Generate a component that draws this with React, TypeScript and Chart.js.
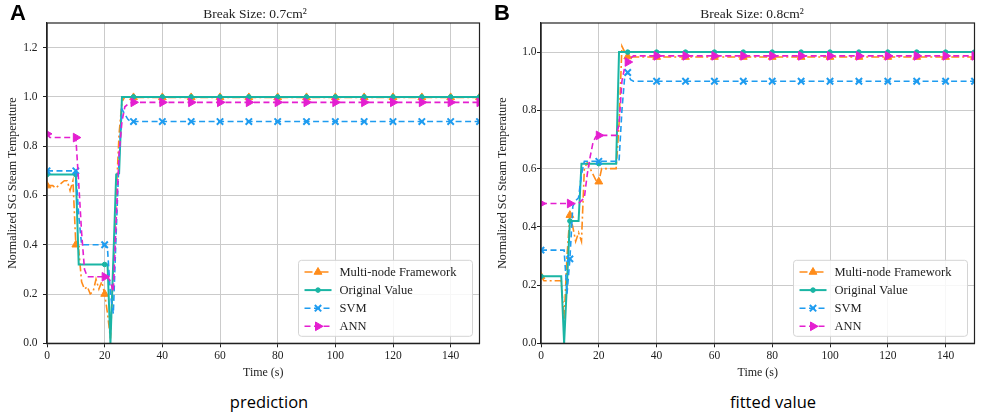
import { useEffect, useRef } from "react";
import { Chart, registerables } from "chart.js";
import { drawPoint } from "chart.js/helpers";

Chart.register(...registerables);

const seriesLabels = ["Multi-node Framework", "Original Value", "SVM", "ANN"];

// Panel A - break size 0.7 cm2
const timeA = [
  0, 1, 2, 3, 4, 5, 6, 7, 8, 9, 10, 11, 12, 13, 14, 15, 16, 17, 18, 19, 20,
  21, 22, 23, 24, 25, 26, 27, 28, 29, 30, 40, 50, 60, 70, 80, 90, 100, 110,
  120, 130, 140, 150,
];
const multiNodeA = [
  0.64, 0.64, 0.64, 0.63, 0.64, 0.65, 0.66, 0.66, 0.62, 0.66, 0.4, 0.38, 0.25,
  0.22, 0.23, 0.2, 0.21, 0.26, 0.22, 0.25, 0.2, 0.12, 0.02, 0.3, 0.6, 0.85,
  0.98, 1.0, 1.0, 1.0, 0.998, 0.998, 0.998, 0.998, 0.998, 0.998, 0.998, 0.998,
  0.998, 0.998, 0.998, 0.998, 0.998,
];
const originalA = [
  0.685, 0.685, 0.685, 0.685, 0.685, 0.685, 0.685, 0.685, 0.685, 0.685, 0.685,
  0.32, 0.32, 0.32, 0.32, 0.32, 0.32, 0.32, 0.32, 0.32, 0.32, 0.32, 0.0, 0.34,
  0.685, 0.69, 1.0, 1.0, 1.0, 1.0, 1.0, 1.0, 1.0, 1.0, 1.0, 1.0, 1.0, 1.0, 1.0,
  1.0, 1.0, 1.0, 1.0,
];
const svmA = [
  0.7, 0.7, 0.7, 0.7, 0.7, 0.7, 0.7, 0.7, 0.7, 0.7, 0.7, 0.52, 0.4, 0.4, 0.4,
  0.4, 0.4, 0.4, 0.4, 0.4, 0.4, 0.38, 0.2, 0.12, 0.45, 0.75, 0.95, 0.93, 0.91,
  0.9, 0.9, 0.9, 0.9, 0.9, 0.9, 0.9, 0.9, 0.9, 0.9, 0.9, 0.9, 0.9, 0.9,
];
const annA = [
  0.85, 0.835, 0.835, 0.835, 0.835, 0.835, 0.835, 0.835, 0.835, 0.835, 0.835,
  0.65, 0.45, 0.3, 0.27, 0.27, 0.27, 0.27, 0.27, 0.27, 0.27, 0.27, 0.25, 0.21,
  0.5, 0.77, 0.9, 0.96, 0.97, 0.975, 0.978, 0.978, 0.978, 0.978, 0.978, 0.978,
  0.978, 0.978, 0.978, 0.978, 0.978, 0.978, 0.978,
];

// Panel B - break size 0.8 cm2
const timeB = [
  0, 1, 2, 3, 4, 5, 6, 7, 8, 9, 10, 11, 12, 13, 14, 15, 16, 17, 18, 19, 20,
  21, 22, 23, 24, 25, 26, 27, 28, 29, 30, 31, 32, 40, 50, 60, 70, 80, 90, 100,
  110, 120, 130, 140, 150,
];
const multiNodeB = [
  0.23, 0.215, 0.215, 0.215, 0.215, 0.215, 0.215, 0.215, 0.08, 0.3, 0.44, 0.4,
  0.35, 0.38, 0.35, 0.6, 0.62, 0.6, 0.58, 0.56, 0.555, 0.6, 0.6, 0.6, 0.6, 0.6,
  0.6, 0.75, 1.02, 1.0, 0.985, 0.983, 0.983, 0.983, 0.983, 0.983, 0.983, 0.983,
  0.983, 0.983, 0.983, 0.983, 0.983, 0.983, 0.983,
];
const originalB = [
  0.23, 0.23, 0.23, 0.23, 0.23, 0.23, 0.23, 0.23, 0.0, 0.21, 0.42, 0.42, 0.42,
  0.42, 0.617, 0.617, 0.617, 0.617, 0.617, 0.617, 0.617, 0.617, 0.617, 0.617,
  0.617, 0.617, 0.617, 1.0, 1.0, 1.0, 1.0, 1.0, 1.0, 1.0, 1.0, 1.0, 1.0, 1.0,
  1.0, 1.0, 1.0, 1.0, 1.0, 1.0, 1.0,
];
const svmB = [
  0.32, 0.32, 0.32, 0.32, 0.32, 0.32, 0.32, 0.32, 0.32, 0.17, 0.29, 0.47, 0.49,
  0.5, 0.58, 0.625, 0.625, 0.625, 0.625, 0.625, 0.625, 0.625, 0.625, 0.625,
  0.625, 0.625, 0.625, 0.625, 0.8, 0.92, 0.93, 0.905, 0.9, 0.9, 0.9, 0.9, 0.9,
  0.9, 0.9, 0.9, 0.9, 0.9, 0.9, 0.9, 0.9,
];
const annB = [
  0.48, 0.48, 0.48, 0.48, 0.48, 0.48, 0.48, 0.48, 0.48, 0.48, 0.48, 0.48, 0.48,
  0.48, 0.49, 0.5, 0.58, 0.64, 0.69, 0.71, 0.714, 0.714, 0.714, 0.714, 0.714,
  0.714, 0.714, 0.75, 0.9, 0.95, 0.966, 0.98, 0.987, 0.987, 0.987, 0.987,
  0.987, 0.987, 0.987, 0.987, 0.987, 0.987, 0.987, 0.987, 0.987,
];

const serif = "'Liberation Serif', 'Times New Roman', serif";

const seriesStyles = [
  { color: "#ff8c1a", dash: [8, 3, 2, 3], width: 1.6, point: "triangle", rotation: 0, radius: 4.5, pointBorder: 1 },
  { color: "#1ab5a4", dash: [], width: 2.0, point: "circle", rotation: 0, radius: 2.3, pointBorder: 1 },
  { color: "#1e9cf0", dash: [6, 3.5], width: 1.6, point: "crossRot", rotation: 0, radius: 4.5, pointBorder: 2 },
  { color: "#e41fd0", dash: [6, 3.5], width: 1.6, point: "triangle", rotation: 90, radius: 5, pointBorder: 1 },
];

// frame around the plot + legend in the lower right corner
const frameLegendPlugin = {
  id: "frameLegend",
  afterDatasetsDraw(chart: any) {
    const { ctx, chartArea: a } = chart;
    ctx.save();
    ctx.strokeStyle = "#222";
    ctx.lineWidth = 1.2;
    ctx.strokeRect(a.left, a.top, a.right - a.left, a.bottom - a.top);

    ctx.font = `12.5px ${serif}`;
    const textW = Math.max(...seriesLabels.map((t) => ctx.measureText(t).width));
    const w = textW + 57;
    const h = 76;
    const x0 = a.right - 7 - w;
    const y0 = a.bottom - 7 - h;
    ctx.beginPath();
    ctx.roundRect(x0, y0, w, h, 3);
    ctx.fillStyle = "rgba(255,255,255,0.85)";
    ctx.fill();
    ctx.strokeStyle = "#d4d4d4";
    ctx.lineWidth = 1;
    ctx.stroke();

    seriesLabels.forEach((label, i) => {
      const s = seriesStyles[i];
      const cy = y0 + 11.7 + i * 18.1;
      ctx.strokeStyle = s.color;
      ctx.fillStyle = s.color;
      ctx.lineWidth = s.width;
      ctx.setLineDash(s.dash);
      ctx.beginPath();
      ctx.moveTo(x0 + 6, cy);
      ctx.lineTo(x0 + 33, cy);
      ctx.stroke();
      ctx.setLineDash([]);
      ctx.lineWidth = s.pointBorder;
      drawPoint(ctx, { pointStyle: s.point, rotation: s.rotation, radius: s.radius, borderWidth: s.pointBorder } as any, x0 + 19.5, cy);
      ctx.fillStyle = "#222";
      ctx.textAlign = "left";
      ctx.textBaseline = "middle";
      ctx.fillText(label, x0 + 41, cy + 0.5);
    });
    ctx.restore();
  },
};

interface BreakChartProps {
  times: number[];
  series: number[][];
  yMax: number;
  left: number;
  width: number;
  yAxisWidth: number;
  rightPad: number;
  tickPad: number;
}

function BreakChart({ times, series, yMax, left, width, yAxisWidth, rightPad, tickPad }: BreakChartProps) {
  const canvasRef = useRef<HTMLCanvasElement>(null);

  useEffect(() => {
    if (!canvasRef.current) return;
    const chart = new Chart(canvasRef.current, {
      type: "line",
      data: {
        datasets: series.map((values, i) => {
          const s = seriesStyles[i];
          return {
            label: seriesLabels[i],
            data: values.map((v, k) => ({ x: times[k], y: v })),
            borderColor: s.color,
            backgroundColor: s.color,
            borderWidth: s.width,
            borderDash: s.dash,
            pointStyle: s.point as any,
            pointRotation: s.rotation,
            pointRadius: (ctx: any) => (times[ctx.dataIndex] % 10 === 0 ? s.radius : 0),
            pointBorderWidth: s.pointBorder,
            pointBackgroundColor: s.color,
            pointBorderColor: s.color,
            tension: 0,
            fill: false,
            order: 4 - i,
          };
        }),
      },
      options: {
        responsive: false,
        maintainAspectRatio: false,
        animation: false,
        layout: { padding: { top: 23, right: rightPad, left: 0, bottom: 0 } },
        plugins: {
          legend: { display: false },
          tooltip: { enabled: false },
        },
        scales: {
          x: {
            type: "linear",
            min: 0,
            max: 150,
            afterFit: (s: any) => {
              s.height = 390 - 343.3;
            },
            ticks: {
              stepSize: 20,
              includeBounds: false,
              padding: 2,
              color: "#222",
              font: { family: serif, size: 11.5 },
            },
            grid: { color: "#cbcbcb", lineWidth: 1, tickLength: 4, tickColor: "#222" },
            border: { display: true, color: "#222", width: 1.2 },
            title: {
              display: true,
              text: "Time (s)",
              color: "#222",
              font: { family: serif, size: 12 },
              padding: { top: 0, bottom: 10 },
            },
          },
          y: {
            min: 0,
            max: yMax,
            afterFit: (s: any) => {
              s.width = yAxisWidth;
            },
            ticks: {
              stepSize: 0.2,
              includeBounds: false,
              padding: tickPad,
              color: "#222",
              font: { family: serif, size: 11.5 },
              callback: (v: any) => Number(v).toFixed(1),
            },
            grid: { color: "#cbcbcb", lineWidth: 1, tickLength: 4, tickColor: "#222" },
            border: { display: true, color: "#222", width: 1.2 },
            title: {
              display: true,
              text: "Normalized SG Steam Temperature",
              color: "#222",
              font: { family: serif, size: 12 },
              padding: { top: 5.5, bottom: 0 },
            },
          },
        },
      },
      plugins: [frameLegendPlugin],
    });

    return () => {
      chart.destroy();
    };
  }, []);

  return (
    <canvas
      ref={canvasRef}
      width={width}
      height={390}
      style={{ position: "absolute", left, top: 0, width, height: 390 }}
    />
  );
}

const titleStyle = {
  position: "absolute" as const,
  top: 7,
  width: 200,
  textAlign: "center" as const,
  fontFamily: serif,
  fontSize: 13.5,
  lineHeight: "14px",
  color: "#222",
};

const letterStyle = {
  position: "absolute" as const,
  top: 2,
  fontFamily: "'Liberation Sans', Arial, sans-serif",
  fontWeight: 700,
  fontSize: 22,
  lineHeight: "22px",
  color: "#000",
};

const captionStyle = {
  position: "absolute" as const,
  top: 393,
  width: 200,
  textAlign: "center" as const,
  fontFamily: "'Open Sans', 'Noto Sans', sans-serif",
  fontWeight: 400,
  fontSize: 16.5,
  lineHeight: "18px",
  color: "#000",
};

export default function App() {
  return (
    <div
      style={{
        position: "fixed",
        left: 0,
        top: 0,
        width: 982,
        height: 414,
        background: "#fff",
        overflow: "hidden",
      }}
    >
      <BreakChart
        times={timeA}
        series={[multiNodeA, originalA, svmA, annA]}
        yMax={1.3}
        left={0}
        width={490}
        yAxisWidth={47}
        rightPad={10.5}
        tickPad={5.5}
      />
      <BreakChart
        times={timeB}
        series={[multiNodeB, originalB, svmB, annB]}
        yMax={1.1}
        left={490}
        width={492}
        yAxisWidth={51}
        rightPad={7.5}
        tickPad={0.5}
      />
      <div style={{ ...titleStyle, left: 155 }}>Break Size: 0.7cm²</div>
      <div style={{ ...titleStyle, left: 652 }}>Break Size: 0.8cm²</div>
      <div style={{ ...letterStyle, left: 10 }}>A</div>
      <div style={{ ...letterStyle, left: 494 }}>B</div>
      <div style={{ ...captionStyle, left: 169 }}>prediction</div>
      <div style={{ ...captionStyle, left: 673 }}>fitted value</div>
    </div>
  );
}
